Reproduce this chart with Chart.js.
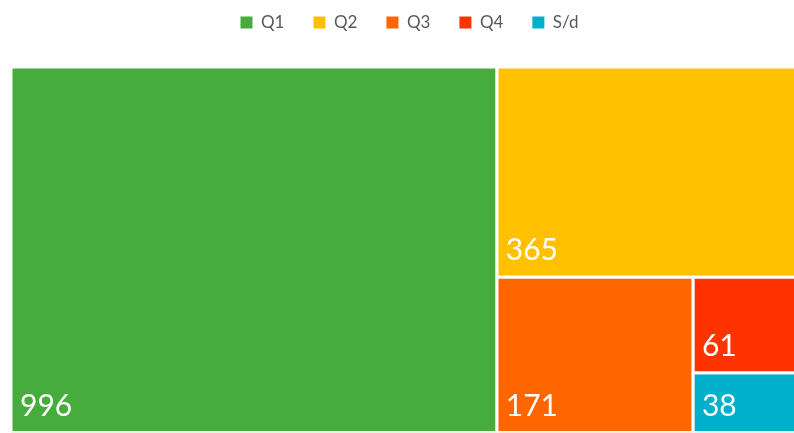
<!DOCTYPE html>
<html>
<head>
<meta charset="utf-8">
<script src="https://cdn.jsdelivr.net/npm/chart.js@4.4.1/dist/chart.umd.min.js"></script>
<style>
html,body{margin:0;padding:0;background:#fff;overflow:hidden;}
#wrap{width:808px;height:434px;}
</style>
</head>
<body>
<div id="wrap"><canvas id="c" width="808" height="434"></canvas></div>
<script>
const categories = ['Q1', 'Q2', 'Q3', 'Q4', 'S/d'];
const values = [996, 365, 171, 61, 38];
const colors = ['#46AD3C', '#FFC000', '#FF6600', '#FF3300', '#00AFCA'];

function squarify(vals, x, y, w, h) {
  const total = vals.reduce((a, b) => a + b, 0);
  const k = w * h / total;
  const areas = vals.map(v => v * k);
  const rects = [];
  let i = 0;
  while (i < areas.length) {
    const side = Math.min(w, h);
    const worst = r => {
      const s = r.reduce((a, b) => a + b, 0);
      const mx = Math.max(...r), mn = Math.min(...r);
      return Math.max(side * side * mx / (s * s), (s * s) / (side * side * mn));
    };
    let row = [areas[i]];
    let j = i + 1;
    while (j < areas.length && worst(row.concat(areas[j])) <= worst(row)) { row.push(areas[j]); j++; }
    const s = row.reduce((a, b) => a + b, 0);
    if (w >= h) {
      const cw = s / h; let cy = y;
      row.forEach(a => { const ch = a / cw; rects.push({x0: x, y0: cy, x1: x + cw, y1: cy + ch}); cy += ch; });
      x += cw; w -= cw;
    } else {
      const rh = s / w; let cx = x;
      row.forEach(a => { const rw = a / rh; rects.push({x0: cx, y0: y, x1: cx + rw, y1: y + rh}); cx += rw; });
      y += rh; h -= rh;
    }
    i = j;
  }
  return rects;
}

const labelPlugin = {
  id: 'tmLabels',
  afterDatasetsDraw(chart) {
    const ctx = chart.ctx;
    const xs = chart.scales.x, ys = chart.scales.y;
    ctx.save();
    ctx.fillStyle = '#ffffff';
    ctx.font = '30px Lato';
    ctx.textBaseline = 'alphabetic';
    ctx.textAlign = 'left';
    chart.data.datasets.forEach((ds, i) => {
      if (!ds.rect) return;
      const px0 = xs.getPixelForValue(ds.rect.x0);
      const py1 = ys.getPixelForValue(ds.rect.y1);
      ctx.fillText(String(values[i]), px0 + 9, py1 - 17);
    });
    ctx.restore();
  }
};

const chart = new Chart(document.getElementById('c'), {
  type: 'scatter',
  data: {
    datasets: categories.map((c, i) => ({
      label: c,
      data: [],
      showLine: true,
      fill: 'shape',
      backgroundColor: colors[i],
      borderColor: '#ffffff',
      borderWidth: 3,
      pointRadius: 0,
      pointHoverRadius: 0,
      tension: 0
    }))
  },
  options: {
    responsive: false,
    animation: false,
    layout: { padding: { left: 11, right: 0, top: -15, bottom: 0 } },
    scales: {
      x: { type: 'linear', display: false, min: 0, max: 1 },
      y: { type: 'linear', display: false, min: 0, max: 1, reverse: true }
    },
    plugins: {
      tooltip: { enabled: false },
      legend: {
        display: true,
        position: 'top',
        labels: {
          usePointStyle: true,
          pointStyle: 'rect',
          boxWidth: 12,
          boxHeight: 12,
          padding: 29,
          color: '#595959',
          font: { family: 'Lato', size: 17 },
          generateLabels: (ch) => ch.data.datasets.map((ds, i) => ({
            text: ds.label,
            fillStyle: colors[i],
            strokeStyle: colors[i],
            lineWidth: 0,
            pointStyle: 'rect',
            fontColor: '#595959',
            datasetIndex: i,
            hidden: false
          }))
        }
      }
    }
  },
  plugins: [labelPlugin]
});

// make room between legend and treemap
const origFit = chart.legend.fit;
chart.legend.fit = function () { origFit.call(this); this.height += 26; };
chart.update('none');

const area = chart.chartArea;
const W = area.right - area.left;
const H = area.bottom - area.top;
const rects = squarify(values, 0, 0, W, H);
chart.options.scales.x.max = W;
chart.options.scales.y.max = H;
rects.forEach((r, i) => {
  const ds = chart.data.datasets[i];
  ds.rect = r;
  ds.data = [
    {x: r.x0, y: r.y0}, {x: r.x1, y: r.y0}, {x: r.x1, y: r.y1},
    {x: r.x0, y: r.y1}, {x: r.x0, y: r.y0}
  ];
});
chart.update('none');
</script>
</body>
</html>
